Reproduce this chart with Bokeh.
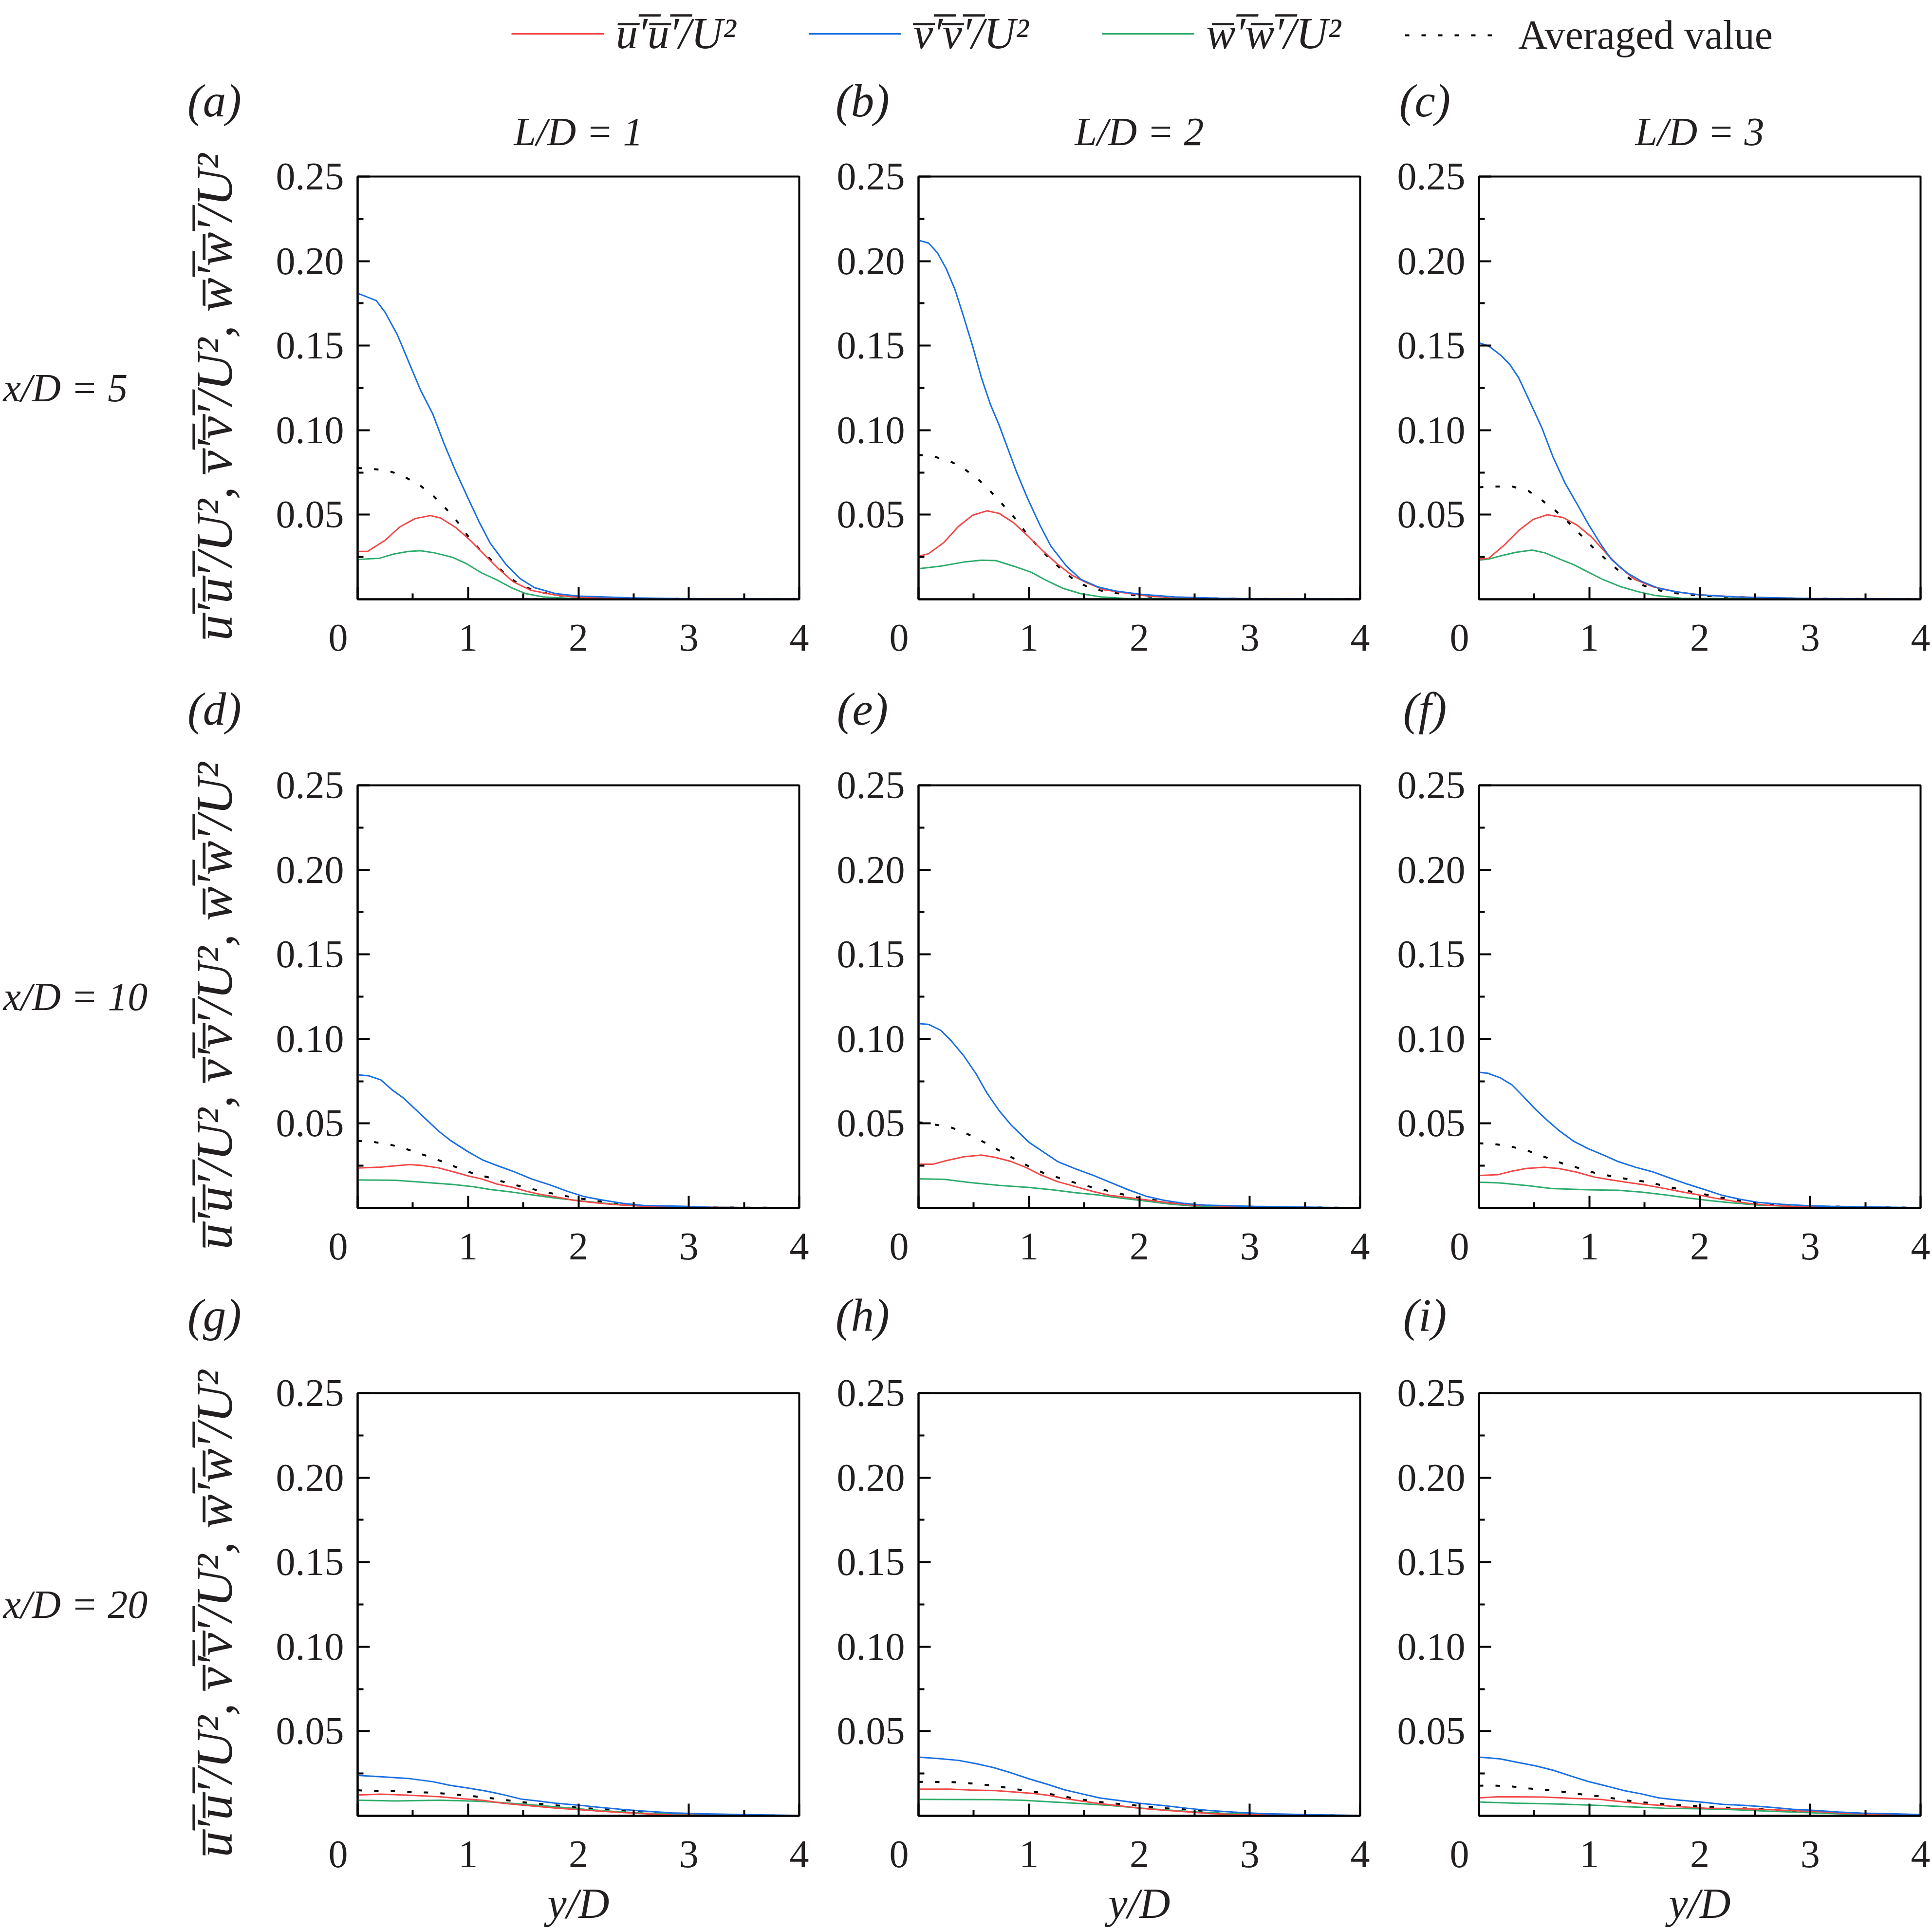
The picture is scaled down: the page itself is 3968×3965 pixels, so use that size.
import math
import numpy as np
from bokeh.plotting import figure
from bokeh.layouts import column, row
from bokeh.models import (Range1d, FixedTicker, Legend, LegendItem,
                          NumeralTickFormatter)
from bokeh.core.properties import value
from bokeh.embed import file_html
from bokeh.resources import INLINE

# ---------------- data (y/D, value) ----------------
X_TICKS = [0, 1, 2, 3, 4]
X_MINOR = [0.5, 1.5, 2.5, 3.5]
Y_TICKS = [0.05, 0.10, 0.15, 0.20, 0.25]
Y_MINOR = [0.025, 0.075, 0.125, 0.175, 0.225]

PANEL_LETTERS = ["a", "b", "c", "d", "e", "f", "g", "h", "i"]
COL_TITLES = ["L/D = 1", "L/D = 2", "L/D = 3"]
ROW_TITLES = ["x/D = 5", "x/D = 10", "x/D = 20"]
X_TITLE = "y/D"

a_uu = [(0, 0.0283), (0.09, 0.0283), (0.25, 0.0349), (0.38, 0.0427), (0.52, 0.0477), (0.66, 0.0495), (0.75, 0.0481), (0.89, 0.0424), (1.02, 0.0349), (1.15, 0.0263), (1.28, 0.0178), (1.41, 0.0103), (1.57, 0.0053), (1.79, 0.0025), (2.0, 0.0011), (2.5, 0.0004), (3.0, 0.0002), (4.0, 0.0001)]
a_vv = [(0, 0.181), (0.17, 0.1766), (0.25, 0.1696), (0.36, 0.1564), (0.46, 0.1408), (0.57, 0.1237), (0.68, 0.1097), (0.78, 0.0925), (0.89, 0.0754), (1.0, 0.0598), (1.10, 0.0458), (1.20, 0.0333), (1.34, 0.0209), (1.47, 0.0123), (1.60, 0.0069), (1.79, 0.0034), (2.0, 0.0019), (2.45, 0.0009), (3.0, 0.0003), (4.0, 0.0001)]
a_ww = [(0, 0.0235), (0.2, 0.0243), (0.33, 0.0268), (0.46, 0.0283), (0.57, 0.0287), (0.70, 0.0274), (0.86, 0.0248), (0.99, 0.0209), (1.12, 0.0157), (1.26, 0.0115), (1.39, 0.0069), (1.52, 0.0034), (1.68, 0.0014), (1.92, 0.0006), (3.0, 0.0002), (4.0, 0.0001)]
a_avg = [(0, 0.0776), (0.1, 0.0773), (0.28, 0.0760), (0.42, 0.0726), (0.57, 0.0671), (0.69, 0.0609), (0.80, 0.0536), (0.91, 0.0453), (1.01, 0.0364), (1.11, 0.0291), (1.23, 0.0220), (1.35, 0.0139), (1.49, 0.0078), (1.64, 0.0045), (1.79, 0.0025), (2.0, 0.0012), (2.5, 0.0005), (3.0, 0.0002), (4.0, 0.0001)]

b_uu = [(0, 0.0254), (0.09, 0.0269), (0.23, 0.0336), (0.36, 0.0430), (0.49, 0.0497), (0.62, 0.0523), (0.73, 0.0508), (0.86, 0.0453), (0.99, 0.0375), (1.12, 0.0290), (1.26, 0.0207), (1.39, 0.0142), (1.52, 0.0098), (1.68, 0.0056), (1.89, 0.0036), (2.10, 0.0017), (2.5, 0.0007), (3.0, 0.0002), (4.0, 0.0001)]
b_vv = [(0, 0.2123), (0.09, 0.2107), (0.17, 0.2050), (0.25, 0.1956), (0.33, 0.1832), (0.41, 0.1668), (0.49, 0.1497), (0.57, 0.1310), (0.65, 0.1154), (0.73, 0.1030), (0.81, 0.0889), (0.89, 0.0749), (0.99, 0.0593), (1.10, 0.0438), (1.20, 0.0313), (1.34, 0.0196), (1.47, 0.0118), (1.63, 0.0072), (1.79, 0.0048), (2.0, 0.0030), (2.32, 0.0014), (2.74, 0.0006), (3.0, 0.0003), (4.0, 0.0001)]
b_ww = [(0, 0.0181), (0.2, 0.0196), (0.41, 0.0220), (0.57, 0.0231), (0.70, 0.0229), (0.86, 0.0196), (1.02, 0.0160), (1.15, 0.0114), (1.31, 0.0064), (1.47, 0.0033), (1.65, 0.0014), (1.87, 0.0005), (3.0, 0.0002), (4.0, 0.0001)]
b_avg = [(0, 0.0853), (0.12, 0.0847), (0.28, 0.0819), (0.41, 0.0773), (0.54, 0.0710), (0.65, 0.0640), (0.76, 0.0562), (0.87, 0.0481), (0.97, 0.0396), (1.08, 0.0313), (1.18, 0.0246), (1.30, 0.0173), (1.43, 0.0103), (1.58, 0.0061), (1.74, 0.0040), (1.89, 0.0030), (2.05, 0.0017), (2.5, 0.0007), (3.0, 0.0002), (4.0, 0.0001)]

c_uu = [(0, 0.0238), (0.09, 0.0243), (0.23, 0.0321), (0.36, 0.0407), (0.49, 0.0472), (0.62, 0.0500), (0.76, 0.0484), (0.89, 0.0438), (1.02, 0.0368), (1.15, 0.0274), (1.28, 0.0188), (1.41, 0.0118), (1.57, 0.0075), (1.79, 0.0044), (2.0, 0.0026), (2.32, 0.0014), (3.0, 0.0003), (4.0, 0.0001)]
c_vv = [(0, 0.1517), (0.09, 0.1497), (0.2, 0.1442), (0.28, 0.1388), (0.36, 0.1310), (0.46, 0.1170), (0.57, 0.1014), (0.67, 0.0843), (0.78, 0.0687), (0.89, 0.0562), (0.99, 0.0445), (1.10, 0.0329), (1.20, 0.0235), (1.34, 0.0157), (1.47, 0.0107), (1.63, 0.0064), (1.79, 0.0044), (2.0, 0.0026), (2.32, 0.0014), (3.0, 0.0004), (4.0, 0.0001)]
c_ww = [(0, 0.0232), (0.09, 0.0238), (0.2, 0.0257), (0.33, 0.0277), (0.48, 0.0291), (0.60, 0.0274), (0.73, 0.0238), (0.86, 0.0204), (0.99, 0.0160), (1.12, 0.0118), (1.28, 0.0075), (1.44, 0.0045), (1.60, 0.0022), (1.84, 0.0006), (3.0, 0.0002), (4.0, 0.0001)]
c_avg = [(0, 0.0662), (0.12, 0.0667), (0.30, 0.0667), (0.45, 0.0640), (0.57, 0.0586), (0.70, 0.0520), (0.82, 0.0449), (0.93, 0.0375), (1.04, 0.0301), (1.16, 0.0231), (1.28, 0.0160), (1.41, 0.0103), (1.57, 0.0061), (1.73, 0.0040), (1.89, 0.0028), (2.0, 0.0022), (2.5, 0.0008), (3.0, 0.0003), (4.0, 0.0001)]

d_uu = [(0, 0.0237), (0.21, 0.0242), (0.47, 0.0257), (0.58, 0.0252), (0.73, 0.0238), (0.87, 0.0214), (1.0, 0.0190), (1.13, 0.0171), (1.26, 0.0142), (1.40, 0.0123), (1.53, 0.0099), (1.66, 0.0080), (1.79, 0.0066), (1.95, 0.0047), (2.11, 0.0034), (2.32, 0.0021), (2.59, 0.0011), (3.0, 0.0005), (4.0, 0.0001)]
d_vv = [(0, 0.0788), (0.10, 0.0782), (0.21, 0.0758), (0.31, 0.0700), (0.42, 0.0648), (0.52, 0.0586), (0.63, 0.0519), (0.73, 0.0457), (0.84, 0.0400), (1.0, 0.0333), (1.13, 0.0285), (1.26, 0.0252), (1.42, 0.0214), (1.58, 0.0171), (1.74, 0.0137), (1.90, 0.0099), (2.06, 0.0066), (2.22, 0.0047), (2.40, 0.0028), (2.59, 0.0015), (2.96, 0.0010), (3.2, 0.0004), (4.0, 0.0001)]
d_ww = [(0, 0.0166), (0.34, 0.0164), (0.60, 0.0152), (0.87, 0.0139), (1.05, 0.0126), (1.21, 0.0109), (1.40, 0.0094), (1.58, 0.0078), (1.79, 0.0059), (2.0, 0.0044), (2.19, 0.0031), (2.40, 0.0018), (2.66, 0.0009), (3.0, 0.0004), (4.0, 0.0001)]
d_avg = [(0, 0.0397), (0.13, 0.0392), (0.29, 0.0376), (0.44, 0.0349), (0.60, 0.0314), (0.75, 0.0279), (0.89, 0.0242), (1.05, 0.0204), (1.21, 0.0177), (1.36, 0.0147), (1.51, 0.0123), (1.67, 0.0099), (1.83, 0.0077), (1.99, 0.0059), (2.14, 0.0044), (2.30, 0.0029), (2.47, 0.0018), (2.63, 0.0009), (3.0, 0.0004), (4.0, 0.0001)]

e_uu = [(0, 0.0259), (0.13, 0.0259), (0.25, 0.0280), (0.41, 0.0303), (0.57, 0.0313), (0.70, 0.0299), (0.84, 0.0275), (0.97, 0.0241), (1.10, 0.0198), (1.26, 0.0156), (1.42, 0.0127), (1.58, 0.0098), (1.74, 0.0074), (1.90, 0.0062), (2.06, 0.0048), (2.27, 0.0031), (2.48, 0.0017), (3.0, 0.0006), (4.0, 0.0001)]
e_vv = [(0, 0.1091), (0.09, 0.1086), (0.20, 0.1052), (0.30, 0.0986), (0.41, 0.0900), (0.52, 0.0795), (0.62, 0.0680), (0.73, 0.0576), (0.84, 0.0490), (1.0, 0.0389), (1.13, 0.0332), (1.26, 0.0275), (1.42, 0.0232), (1.58, 0.0194), (1.74, 0.0151), (1.90, 0.0108), (2.06, 0.0070), (2.22, 0.0046), (2.41, 0.0027), (2.59, 0.0017), (3.04, 0.0010), (4.0, 0.0001)]
e_ww = [(0, 0.0173), (0.23, 0.0170), (0.46, 0.0151), (0.73, 0.0134), (1.0, 0.0122), (1.21, 0.0108), (1.42, 0.0091), (1.63, 0.0077), (1.84, 0.0058), (2.06, 0.0041), (2.27, 0.0024), (2.48, 0.0012), (3.0, 0.0005), (4.0, 0.0001)]
e_avg = [(0, 0.0508), (0.28, 0.0480), (0.43, 0.0442), (0.58, 0.0394), (0.72, 0.0344), (0.86, 0.0294), (1.0, 0.0246), (1.14, 0.0205), (1.30, 0.0173), (1.45, 0.0143), (1.61, 0.0117), (1.77, 0.0094), (1.93, 0.0068), (2.09, 0.0051), (2.24, 0.0036), (2.40, 0.0027), (2.56, 0.0015), (2.72, 0.0010), (3.0, 0.0006), (4.0, 0.0001)]

f_uu = [(0, 0.0192), (0.17, 0.0197), (0.30, 0.0218), (0.43, 0.0234), (0.59, 0.0241), (0.72, 0.0234), (0.88, 0.0213), (1.04, 0.0184), (1.19, 0.0167), (1.35, 0.0151), (1.51, 0.0136), (1.67, 0.0117), (1.82, 0.0098), (1.98, 0.0079), (2.14, 0.0058), (2.30, 0.0041), (2.45, 0.0027), (2.61, 0.0017), (2.82, 0.0010), (4.0, 0.0001)]
f_vv = [(0, 0.0803), (0.08, 0.0797), (0.19, 0.0771), (0.30, 0.0728), (0.40, 0.0661), (0.51, 0.0585), (0.62, 0.0518), (0.72, 0.0461), (0.86, 0.0394), (0.99, 0.0351), (1.13, 0.0313), (1.26, 0.0275), (1.42, 0.0241), (1.58, 0.0213), (1.74, 0.0175), (1.89, 0.0141), (2.05, 0.0108), (2.21, 0.0074), (2.37, 0.0051), (2.53, 0.0033), (2.74, 0.0022), (2.98, 0.0014), (3.19, 0.0010), (4.0, 0.0002)]
f_ww = [(0, 0.0153), (0.19, 0.0148), (0.45, 0.0132), (0.66, 0.0115), (0.99, 0.0108), (1.26, 0.0105), (1.47, 0.0094), (1.67, 0.0079), (1.89, 0.0060), (2.10, 0.0043), (2.30, 0.0030), (2.53, 0.0017), (2.74, 0.0012), (3.0, 0.0006), (4.0, 0.0001)]
f_avg = [(0, 0.0383), (0.13, 0.0379), (0.29, 0.0364), (0.45, 0.0337), (0.60, 0.0301), (0.75, 0.0265), (0.91, 0.0235), (1.06, 0.0206), (1.22, 0.0186), (1.38, 0.0167), (1.54, 0.0153), (1.70, 0.0127), (1.85, 0.0106), (2.01, 0.0086), (2.16, 0.0065), (2.33, 0.0046), (2.48, 0.0030), (2.64, 0.0020), (2.80, 0.0014), (2.96, 0.0011), (4.0, 0.0001)]

g_uu = [(0, 0.0123), (0.21, 0.0128), (0.47, 0.0122), (0.74, 0.0113), (0.95, 0.0101), (1.13, 0.0092), (1.32, 0.0074), (1.53, 0.0061), (1.79, 0.0046), (2.06, 0.0034), (2.32, 0.0022), (2.59, 0.0013), (2.85, 0.0005), (4.0, 0.0001)]
g_vv = [(0, 0.0239), (0.21, 0.0231), (0.47, 0.0220), (0.68, 0.0202), (0.84, 0.0180), (1.0, 0.0164), (1.16, 0.0147), (1.32, 0.0125), (1.48, 0.0099), (1.64, 0.0087), (1.79, 0.0075), (2.0, 0.0063), (2.22, 0.0048), (2.43, 0.0036), (2.64, 0.0026), (2.85, 0.0017), (3.11, 0.0012), (3.51, 0.0007), (4.0, 0.0002)]
g_ww = [(0, 0.0092), (0.34, 0.0088), (0.74, 0.0092), (1.05, 0.0087), (1.26, 0.0080), (1.53, 0.0068), (1.79, 0.0053), (2.06, 0.0038), (2.32, 0.0026), (2.59, 0.0016), (2.85, 0.0011), (3.24, 0.0005), (4.0, 0.0001)]
g_avg = [(0, 0.0151), (0.13, 0.0148), (0.29, 0.0148), (0.45, 0.0142), (0.62, 0.0138), (0.78, 0.0132), (0.94, 0.0123), (1.09, 0.0113), (1.25, 0.0101), (1.41, 0.0087), (1.57, 0.0075), (1.73, 0.0066), (1.89, 0.0056), (2.04, 0.0045), (2.20, 0.0041), (2.36, 0.0032), (2.52, 0.0025), (2.67, 0.0021), (2.83, 0.0014), (2.99, 0.0010), (3.15, 0.0005), (4.0, 0.0001)]

h_uu = [(0, 0.0158), (0.28, 0.0158), (0.47, 0.0153), (0.70, 0.0149), (0.89, 0.0140), (1.05, 0.0132), (1.18, 0.0121), (1.34, 0.0101), (1.48, 0.0087), (1.64, 0.0072), (1.80, 0.0061), (2.0, 0.0045), (2.21, 0.0034), (2.43, 0.0024), (2.64, 0.0014), (2.85, 0.0008), (4.0, 0.0001)]
h_vv = [(0, 0.0347), (0.20, 0.0338), (0.36, 0.0328), (0.52, 0.0309), (0.68, 0.0285), (0.84, 0.0254), (1.0, 0.0219), (1.16, 0.0188), (1.32, 0.0154), (1.48, 0.0130), (1.64, 0.0106), (1.80, 0.0092), (2.0, 0.0074), (2.21, 0.0061), (2.43, 0.0045), (2.64, 0.0031), (2.85, 0.0022), (3.12, 0.0013), (3.51, 0.0007), (4.0, 0.0002)]
h_ww = [(0, 0.0097), (0.68, 0.0096), (0.94, 0.0092), (1.21, 0.0082), (1.48, 0.0072), (1.74, 0.0061), (2.0, 0.0046), (2.27, 0.0034), (2.53, 0.0022), (2.80, 0.0014), (3.12, 0.0009), (3.51, 0.0003), (4.0, 0.0001)]
h_avg = [(0, 0.0201), (0.13, 0.0200), (0.29, 0.0200), (0.45, 0.0193), (0.61, 0.0183), (0.77, 0.0169), (0.93, 0.0153), (1.09, 0.0138), (1.25, 0.0123), (1.41, 0.0103), (1.57, 0.0087), (1.73, 0.0075), (1.89, 0.0066), (2.05, 0.0056), (2.21, 0.0045), (2.37, 0.0041), (2.53, 0.0032), (2.69, 0.0021), (2.85, 0.0014), (3.0, 0.0010), (3.16, 0.0010), (3.32, 0.0005), (4.0, 0.0001)]

i_uu = [(0, 0.0106), (0.19, 0.0113), (0.59, 0.0111), (0.86, 0.0103), (1.10, 0.0097), (1.31, 0.0082), (1.52, 0.0068), (1.79, 0.0055), (2.06, 0.0045), (2.32, 0.0043), (2.58, 0.0038), (2.84, 0.0031), (3.10, 0.0024), (3.36, 0.0014), (3.63, 0.0009), (4.0, 0.0003)]
i_vv = [(0, 0.0347), (0.19, 0.0337), (0.35, 0.0316), (0.51, 0.0296), (0.67, 0.0270), (0.83, 0.0236), (0.99, 0.0203), (1.15, 0.0177), (1.31, 0.0150), (1.47, 0.0130), (1.63, 0.0106), (1.79, 0.0094), (2.0, 0.0082), (2.21, 0.0068), (2.42, 0.0061), (2.63, 0.0051), (2.84, 0.0039), (3.05, 0.0032), (3.26, 0.0022), (3.47, 0.0016), (3.74, 0.0012), (4.0, 0.0007)]
i_ww = [(0, 0.0082), (0.32, 0.0075), (0.72, 0.0070), (1.04, 0.0063), (1.36, 0.0053), (1.68, 0.0045), (2.06, 0.0041), (2.32, 0.0036), (2.58, 0.0029), (2.84, 0.0022), (3.10, 0.0016), (3.49, 0.0007), (3.81, 0.0001), (4.0, 0.0001)]
i_avg = [(0, 0.0178), (0.13, 0.0179), (0.29, 0.0174), (0.45, 0.0162), (0.61, 0.0153), (0.77, 0.0142), (0.93, 0.0127), (1.09, 0.0116), (1.24, 0.0101), (1.40, 0.0085), (1.56, 0.0075), (1.72, 0.0066), (1.88, 0.0061), (2.03, 0.0055), (2.19, 0.0050), (2.35, 0.0045), (2.51, 0.0041), (2.68, 0.0036), (2.84, 0.0031), (2.99, 0.0025), (3.15, 0.0021), (3.31, 0.0014), (3.47, 0.0010), (3.63, 0.0005), (3.79, 0.0005), (4.0, 0.0002)]

PANELS = [
    (a_uu, a_vv, a_ww, a_avg), (b_uu, b_vv, b_ww, b_avg), (c_uu, c_vv, c_ww, c_avg),
    (d_uu, d_vv, d_ww, d_avg), (e_uu, e_vv, e_ww, e_avg), (f_uu, f_vv, f_ww, f_avg),
    (g_uu, g_vv, g_ww, g_avg), (h_uu, h_vv, h_ww, h_avg), (i_uu, i_vv, i_ww, i_avg),
]

# ---------------- style / layout (pixels) ----------------
FONT = "Liberation Serif"
TXT = "#231F20"
RED, BLUE, GREEN = "#F24848", "#1A6FE2", "#2EAC6B"
OL = "\u0305"  # combining overline


def bar(s):
    return "".join(ch + OL for ch in s)


UU = bar("u\u2032u\u2032") + "/U\u00b2"
VV = bar("v\u2032v\u2032") + "/U\u00b2"
WW = bar("w\u2032w\u2032") + "/U\u00b2"
YLABEL = UU + ", " + VV + ", " + WW

FW, FH = 907, 868
LEFT_W = 544
COL_B = [(190, 59), (186, 57), (187, 22)]
ROW_B = [(46, 140), (46, 140), (46, 126)]
HEAD_H = 150
STRIP_H = [166, 196, 194]
BOTTOM_H = 108

col_x0 = []  # frame left edges on the page
xx = LEFT_W
for bl, br in COL_B:
    col_x0.append(xx + bl)
    xx += bl + FW + br
TOTAL_W = xx

row_y0 = []  # frame top edges on the page
yy = HEAD_H
for s, (bt, bb) in zip(STRIP_H, ROW_B):
    yy += s
    row_y0.append(yy + bt)
    yy += bt + FH + bb
MID_BOTTOM = yy


def blank(width, y_top, y_bot, x0, x1):
    p = figure(width=width, height=int(y_bot - y_top),
               x_range=Range1d(x0, x1), y_range=Range1d(y_bot, y_top),
               output_backend="svg", toolbar_location=None,
               x_axis_location=None, y_axis_location=None,
               min_border_left=0, min_border_right=0, min_border_top=0, min_border_bottom=0)
    p.grid.visible = False
    p.outline_line_color = None
    p.background_fill_alpha = 0
    p.border_fill_alpha = 0
    return p


def txt(p, xs, ys, texts, size, style="italic", align="center", angle=0.0):
    p.text(x=xs, y=ys, text=texts, text_font=value(FONT), text_font_size=value(size),
           text_font_style=style, text_align=align, text_baseline="middle",
           angle=angle, text_color=TXT)


def make_panel(k):
    r, c = divmod(k, 3)
    bl, br = COL_B[c]
    bt, bb = ROW_B[r]
    p = figure(width=bl + FW + br, height=bt + FH + bb,
               x_range=Range1d(0, 4), y_range=Range1d(0, 0.25),
               output_backend="svg", toolbar_location=None,
               min_border_left=bl, min_border_right=br,
               min_border_top=bt, min_border_bottom=bb)
    p.grid.visible = False
    p.outline_line_color = "black"
    p.outline_line_width = 4
    p.background_fill_color = "white"
    p.border_fill_color = "white"
    p.xaxis.ticker = FixedTicker(ticks=X_TICKS, minor_ticks=X_MINOR)
    p.yaxis.ticker = FixedTicker(ticks=Y_TICKS, minor_ticks=Y_MINOR)
    p.yaxis.formatter = NumeralTickFormatter(format="0.00")
    # the reference sets its "0" a little to the left of the corner
    p.xaxis.major_label_overrides = {0: "0\u2002\u2002"}
    for ax in (p.xaxis[0], p.yaxis[0]):
        ax.axis_line_width = 4
        ax.axis_line_color = "black"
        ax.major_tick_line_width = 4
        ax.minor_tick_line_width = 4
        ax.major_tick_line_color = "black"
        ax.minor_tick_line_color = "black"
        ax.major_tick_in = 25
        ax.major_tick_out = 0
        ax.minor_tick_in = 12
        ax.minor_tick_out = 0
        ax.major_label_text_font = FONT
        ax.major_label_text_font_size = "80px"
        ax.major_label_text_color = TXT
    p.xaxis.major_label_standoff = 34
    p.yaxis.major_label_standoff = 28

    uu, vv, ww, av = PANELS[k]
    for data, col, dash, lw in ((av, "black", "9 25", 4), (ww, GREEN, "solid", 3),
                                (uu, RED, "solid", 3), (vv, BLUE, "solid", 3)):
        p.line([q[0] for q in data], [q[1] for q in data],
               line_color=col, line_width=lw, line_dash=dash)
    return p


panels = [make_panel(k) for k in range(9)]

# ---------------- left column: row titles, y label, letters a/d/g ----------------
left = blank(LEFT_W, HEAD_H, MID_BOTTOM, 0, LEFT_W)
ycent = [y0 + FH / 2 for y0 in row_y0]
txt(left, [6, 6, 6], ycent, ROW_TITLES, "82px", align="left")
txt(left, [440] * 3, [y + 19 for y in ycent], [YLABEL] * 3, "106px", angle=math.pi / 2)
letter_y = [row_y0[0] - 156, row_y0[1] - 157, row_y0[2] - 160]
txt(left, [440] * 3, letter_y,
    ["(" + PANEL_LETTERS[3 * r] + ")" for r in range(3)], "95px")

# ---------------- strips above each row: letters, column titles ----------------
strips = []
for r in range(3):
    y_top = row_y0[r] - ROW_B[r][0] - STRIP_H[r]
    y_bot = row_y0[r] - ROW_B[r][0]
    s = blank(TOTAL_W - LEFT_W, y_top, y_bot, LEFT_W, TOTAL_W)
    txt(s, [col_x0[1] - 115, col_x0[2] - 111], [letter_y[r]] * 2,
        ["(" + PANEL_LETTERS[3 * r + 1] + ")", "(" + PANEL_LETTERS[3 * r + 2] + ")"], "95px")
    if r == 0:
        txt(s, [x0 + FW / 2 for x0 in col_x0], [row_y0[0] - 92] * 3, COL_TITLES, "82px")
    strips.append(s)

# ---------------- bottom strip: x titles ----------------
bottom = blank(TOTAL_W, MID_BOTTOM, MID_BOTTOM + BOTTOM_H, 0, TOTAL_W)
txt(bottom, [x0 + FW / 2 for x0 in col_x0], [MID_BOTTOM + BOTTOM_H / 2] * 3, [X_TITLE] * 3, "88px")

# ---------------- header with the legend ----------------
hdr = figure(width=TOTAL_W, height=HEAD_H, x_range=Range1d(0, 1), y_range=Range1d(0, 1),
             output_backend="svg", toolbar_location=None,
             x_axis_location=None, y_axis_location=None,
             min_border_left=0, min_border_right=0, min_border_top=0, min_border_bottom=0)
hdr.grid.visible = False
hdr.outline_line_color = None
nan2 = np.array([np.nan, np.nan])
r_uu = hdr.line(nan2, nan2, line_color=RED, line_width=3)
r_vv = hdr.line(nan2, nan2, line_color=BLUE, line_width=3)
r_ww = hdr.line(nan2, nan2, line_color=GREEN, line_width=3)
r_av = hdr.line(nan2, nan2, line_color="black", line_width=4, line_dash="9 25")

leg1 = Legend(items=[LegendItem(label=UU, renderers=[r_uu]),
                     LegendItem(label=VV, renderers=[r_vv]),
                     LegendItem(label=WW, renderers=[r_ww])],
              orientation="horizontal", location=(1050, 30),
              glyph_width=190, glyph_height=40, label_standoff=25, spacing=150,
              padding=0, margin=0, border_line_color=None, background_fill_alpha=0,
              label_text_font=FONT, label_text_font_size="90px",
              label_text_font_style="italic", label_text_color=TXT)
leg2 = Legend(items=[LegendItem(label="Averaged value", renderers=[r_av])],
              orientation="horizontal", location=(2885, 30),
              glyph_width=203, glyph_height=40, label_standoff=30,
              padding=0, margin=0, border_line_color=None, background_fill_alpha=0,
              label_text_font=FONT, label_text_font_size="84px",
              label_text_font_style="normal", label_text_color=TXT)
hdr.add_layout(leg1)
hdr.add_layout(leg2)

right = column(strips[0], row(panels[0], panels[1], panels[2]),
               strips[1], row(panels[3], panels[4], panels[5]),
               strips[2], row(panels[6], panels[7], panels[8]))
layout = column(hdr, row(left, right), bottom)

open("out.html", "w").write(file_html(layout, INLINE))
